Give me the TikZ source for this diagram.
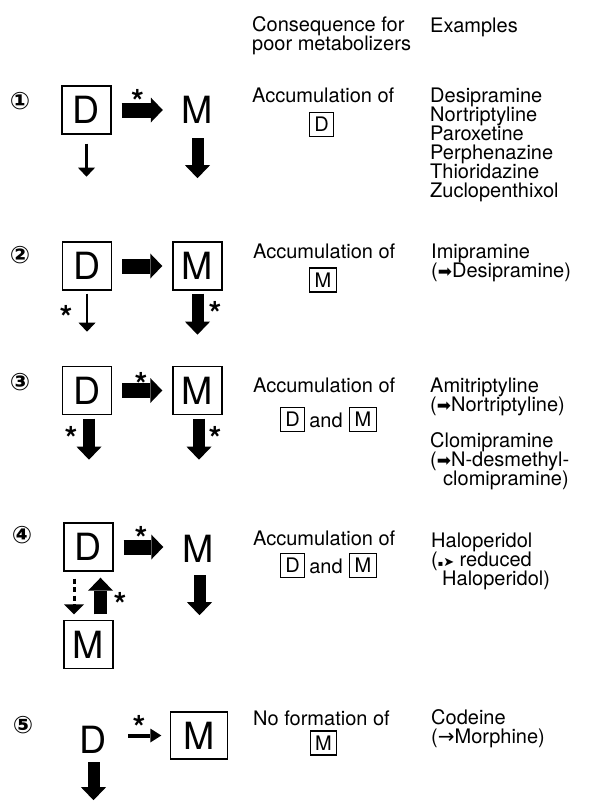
\documentclass[tikz,border=0pt]{standalone}
\usepackage{fontspec}
\setmainfont{TeX Gyre Heros}
\newfontfamily\sym{DejaVu Sans}
\usetikzlibrary{arrows.meta,calc}
\newcommand\bigf{\fontsize{37.5}{40}\selectfont}
\newcommand\txtf{\fontsize{20}{19}\selectfont}
\newcommand\astf{\fontsize{33}{33}\selectfont\bfseries}
\newcommand\numf{\sym\bfseries\fontsize{24}{24}\selectfont}
\newcommand\harrw{{\sym\fontsize{17}{17}\selectfont ➡}}
\begin{document}
\begin{tikzpicture}[x=1pt,y=-1pt,
  big/.style={font=\bigf, inner sep=0pt, minimum width=49pt, minimum height=48pt},
  bigbox/.style={big, draw, line width=1.4pt},
  smallbox/.style={font=\txtf, draw, line width=1.1pt, inner xsep=5pt, inner ysep=0pt, minimum height=24pt},
  txt/.style={font=\txtf, inner sep=0pt, anchor=base west, align=left},
  ast/.style={font=\astf, inner sep=0pt, anchor=base},
  num/.style={font=\numf, inner sep=0pt},
  harr/.style={line width=15pt, -{Triangle[length=12pt,width=25pt,line width=0pt]}, shorten <=10pt, shorten >=10pt},
  varr/.style={line width=12pt, -{Triangle[length=13pt,width=25pt,line width=0pt]}},
  uparr/.style={line width=13pt, -{Triangle[length=13pt,width=25pt,line width=0pt]}},
  thinv/.style={line width=2.6pt, -{Triangle[length=9pt,width=17pt,line width=0pt]}},
  medarr/.style={line width=4pt, -{Triangle[length=11pt,width=14pt,line width=0pt]}},
  dasharr/.style={line width=3pt, dash pattern=on 5pt off 3.5pt, -{Triangle[length=10pt,width=20pt,line width=0pt]}}
]
\useasboundingbox[fill=white] (0,0) rectangle (592,801);

% headers (anchor = baseline of last line)
\node[txt] (h1) at (252,50) {Consequence for\\poor metabolizers};
\node[txt] (h2) at (430,32) {Examples};

% ---------- row 1
\node[num] (n1) at (20,101) {①};
\node[bigbox] (D1) at (86.5,110) {D};
\node[big] (M1) at (197.5,110) {M};
\draw[harr] (D1) -- (M1);
\node[ast] (a1) at (137.5,113) {*};
\draw[thinv] (D1.south) ++(0,9) -- ++(0,33);
\draw[varr] (M1.south) ++(0,4) -- ++(0,40);
\node[txt] (c1) at (252,102) {Accumulation of};
\node[smallbox] (s1) at (321.5,124.5) {D};
\node[txt] (e1) at (430,197) {Desipramine\\Nortriptyline\\Paroxetine\\Perphenazine\\Thioridazine\\Zuclopenthixol};

% ---------- row 2
\node[num] (n2) at (20,255) {②};
\node[bigbox] (D2) at (87,266) {D};
\node[bigbox] (M2) at (197.5,266) {M};
\draw[harr] (D2) -- (M2);
\draw[thinv] (D2.south) ++(0,3) -- ++(0,38);
\node[ast] (a2) at (66,329) {*};
\draw[varr] (M2.south) ++(0,3) -- ++(0,41);
\node[ast] (a3) at (215,325.5) {*};
\node[txt] (c2) at (253,258) {Accumulation of};
\node[smallbox] (s2) at (323,280) {M};
\node[txt] (e2) at (431,277) {Imipramine\\(\harrw Desipramine)};

% ---------- row 3
\node[num] (n3) at (20,382) {③};
\node[bigbox] (D3) at (87,390.5) {D};
\node[bigbox] (M3) at (197.5,390.5) {M};
\draw[harr] (D3) -- (M3);
\node[ast] (a4) at (141,396) {*};
\draw[varr] (D3.south) ++(2,3.5) -- ++(0,41);
\node[ast] (a5) at (71,450) {*};
\draw[varr] (M3.south) ++(1.5,3.5) -- ++(0,41);
\node[ast] (a6) at (215,450) {*};
\node[txt] (c3) at (253,392) {Accumulation of};
\node[smallbox] (s3a) at (292.5,419.5) {D};
\node[font=\txtf, inner sep=0pt, anchor=base] (and3) at (326,427) {and};
\node[smallbox] (s3b) at (363,419.5) {M};
\node[txt] (e3) at (430,411) {Amitriptyline\\(\harrw Nortriptyline)};
\node[txt] (e3b) at (430,485) {Clomipramine\\(\harrw N-desmethyl-\\\hspace*{13pt}clomipramine)};

% ---------- row 4
\node[num] (n4) at (22,535) {④};
\node[bigbox] (D4) at (88.5,547) {D};
\node[big] (M4) at (198,549) {M};
\node[bigbox] (M4b) at (88.5,644.5) {M};
\draw[harr] (D4.east) -- (D4.east -| M4.west);
\node[ast] (a7) at (141,550) {*};
\draw[dasharr] ($(D4.south)+(-14.5,7)$) -- ($(M4b.north)+(-14.5,-5.5)$);
\draw[uparr] ($(M4b.north)+(12,-5.5)$) -- ($(D4.south)+(12,6)$);
\node[ast] (a8) at (120,616) {*};
\draw[varr] (M4.south) ++(1.5,2) -- ++(0,40);
\node[txt] (c4) at (253,545) {Accumulation of};
\node[smallbox] (s4a) at (292.5,565.5) {D};
\node[font=\txtf, inner sep=0pt, anchor=base] (and4) at (326,573) {and};
\node[smallbox] (s4b) at (363,565.5) {M};
\node[txt] (e4) at (431,585) {Haloperidol\\({\sym\fontsize{8}{8}\selectfont ▪}{\sym\fontsize{13}{13}\selectfont ➤} reduced\\\hspace*{11pt}Haloperidol)};

% ---------- row 5
\node[num] (n5) at (23,725) {⑤};
\node[big] (D5) at (93,740) {D};
\node[bigbox, minimum width=57pt, minimum height=47pt] (M5) at (199,735.5) {M};
\draw[medarr, shorten <=10.5pt, shorten >=8.5pt] (D5.east |- M5.west) -- (M5.west);
\node[ast] (a9) at (139,739) {*};
\draw[varr] (D5.south) ++(0.5,-2) -- ++(0,38);
\node[txt] (c5) at (253,725) {No formation of};
\node[smallbox] (s5) at (323.5,743) {M};
\node[txt] (e5) at (431,743) {Codeine\\({\sym →}Morphine)};
\end{tikzpicture}
\end{document}
